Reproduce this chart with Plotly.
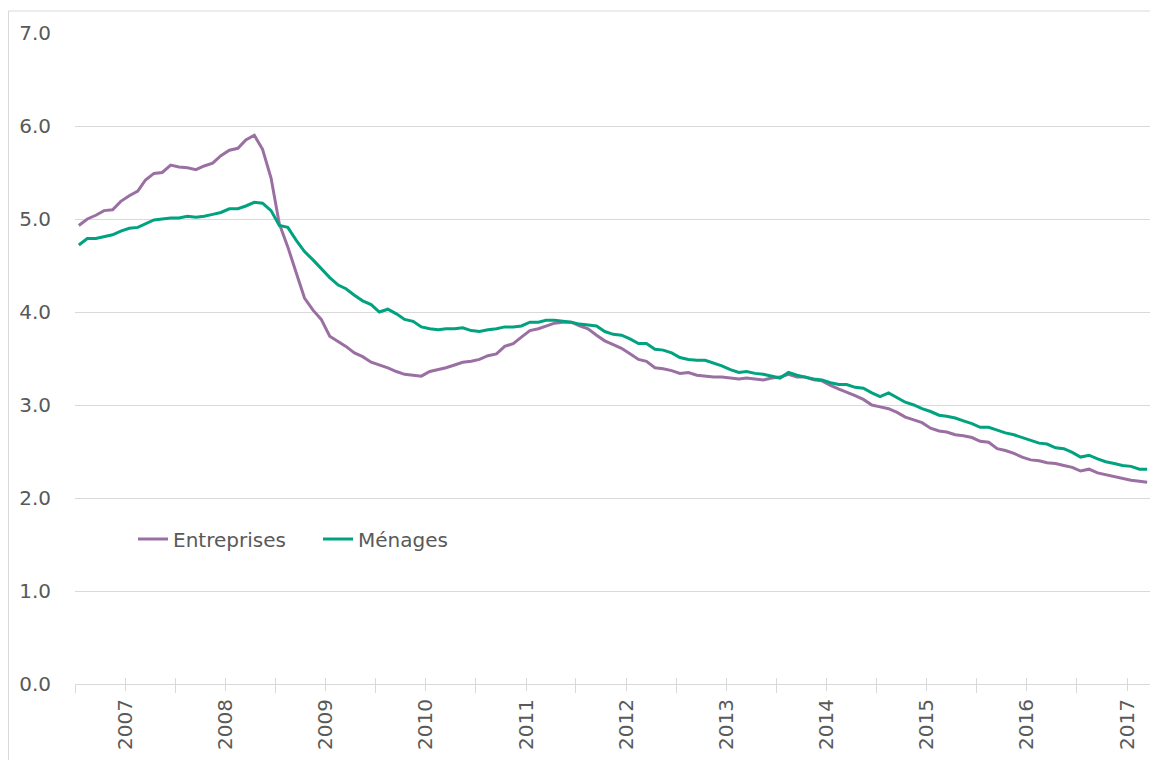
import pandas as pd
import plotly.graph_objects as go

# Monthly series, Jul 2006 -> Mar 2017
start_month = "2006-07-01"
end_month = "2017-03-01"

entreprises = [
    4.93, 5.00, 5.04, 5.09, 5.10, 5.19, 5.25, 5.30, 5.42, 5.49,
    5.50, 5.58, 5.56, 5.55, 5.53, 5.57, 5.60, 5.68, 5.74, 5.76,
    5.85, 5.90, 5.75, 5.44, 4.95, 4.70, 4.42, 4.15, 4.02, 3.92,
    3.74, 3.68, 3.63, 3.56, 3.52, 3.46, 3.43, 3.40, 3.36, 3.33,
    3.32, 3.31, 3.36, 3.38, 3.40, 3.43, 3.46, 3.47, 3.49, 3.53,
    3.55, 3.63, 3.66, 3.73, 3.80, 3.82, 3.85, 3.88, 3.89, 3.89,
    3.85, 3.82, 3.75, 3.69, 3.65, 3.61, 3.55, 3.49, 3.47, 3.40,
    3.39, 3.37, 3.34, 3.35, 3.32, 3.31, 3.30, 3.30, 3.29, 3.28,
    3.29, 3.28, 3.27, 3.29, 3.30, 3.33, 3.30, 3.30, 3.27, 3.26,
    3.21, 3.17, 3.14, 3.10, 3.06, 3.00, 2.98, 2.96, 2.92, 2.87,
    2.84, 2.81, 2.75, 2.72, 2.71, 2.68, 2.67, 2.65, 2.61, 2.60,
    2.53, 2.51, 2.48, 2.44, 2.41, 2.40, 2.38, 2.37, 2.35, 2.33,
    2.29, 2.31, 2.27, 2.25, 2.23, 2.21, 2.19, 2.18, 2.17,
]

menages = [
    4.72, 4.79, 4.79, 4.81, 4.83, 4.87, 4.90, 4.91, 4.95, 4.99,
    5.00, 5.01, 5.01, 5.03, 5.02, 5.03, 5.05, 5.07, 5.11, 5.11,
    5.14, 5.18, 5.17, 5.09, 4.93, 4.91, 4.77, 4.65, 4.56, 4.47,
    4.37, 4.29, 4.25, 4.18, 4.12, 4.08, 4.00, 4.03, 3.98, 3.92,
    3.90, 3.84, 3.82, 3.81, 3.82, 3.82, 3.83, 3.80, 3.79, 3.81,
    3.82, 3.84, 3.84, 3.85, 3.89, 3.89, 3.91, 3.91, 3.90, 3.89,
    3.87, 3.86, 3.85, 3.79, 3.76, 3.75, 3.71, 3.66, 3.66, 3.60,
    3.59, 3.56, 3.51, 3.49, 3.48, 3.48, 3.45, 3.42, 3.38, 3.35,
    3.36, 3.34, 3.33, 3.31, 3.29, 3.35, 3.32, 3.30, 3.28, 3.27,
    3.24, 3.22, 3.22, 3.19, 3.18, 3.13, 3.09, 3.13, 3.08, 3.03,
    3.00, 2.96, 2.93, 2.89, 2.88, 2.86, 2.83, 2.80, 2.76, 2.76,
    2.73, 2.70, 2.68, 2.65, 2.62, 2.59, 2.58, 2.54, 2.53, 2.49,
    2.44, 2.46, 2.42, 2.39, 2.37, 2.35, 2.34, 2.31, 2.31,
]

series_names = ["Entreprises", "Ménages"]
series_colors = ["#9a70a2", "#00a27f"]
year_labels = [str(y) for y in range(2007, 2018)]
y_tick_values = [0, 1, 2, 3, 4, 5, 6, 7]

months = pd.date_range(start_month, end_month, freq="MS")
x_dates = months + pd.Timedelta(days=14)

year_ticks = [f"{y}-01-01" for y in year_labels]
mid_ticks = [f"{y}-07-01" for y in range(2006, 2017)]
all_ticks = sorted(year_ticks + mid_ticks)
x_range = ["2006-07-01", "2017-03-29"]

grid = "#d9d9d9"
txt = "#595959"
font_family = "DejaVu Sans, Open Sans, sans-serif"

W, H = 1150, 752
L, R, T, B = 67, 7, 25, 76
pw, ph = W - L - R, H - T - B

fig = go.Figure()
for name, vals, col in zip(series_names, [entreprises, menages], series_colors):
    fig.add_trace(go.Scatter(x=x_dates, y=vals, mode="lines", name=name,
                             line=dict(color=col, width=3)))
# empty trace to materialize overlay axis used for upward tick marks
fig.add_trace(go.Scatter(x=[], y=[], xaxis="x2", showlegend=False, hoverinfo="skip"))

fig.update_layout(
    width=W, height=H,
    margin=dict(l=L, r=R, t=T, b=B),
    paper_bgcolor="white", plot_bgcolor="white",
    font=dict(family=font_family, size=20, color=txt),
    showlegend=True,
    legend=dict(orientation="h", x=(125 - L) / pw, xanchor="left",
                y=(ph + T - 531) / ph, yanchor="middle",
                bgcolor="rgba(0,0,0,0)", font=dict(size=20, color=txt),
                entrywidthmode="pixels", entrywidth=140),
    xaxis=dict(type="date", range=x_range, tickmode="array",
               tickvals=year_ticks, ticktext=year_labels, tickangle=-90,
               ticks="outside", ticklen=6, tickcolor=grid, tickwidth=1,
               showgrid=False, showline=True, linecolor=grid, linewidth=1,
               zeroline=False,
               minor=dict(tickmode="array", tickvals=mid_ticks, ticks="outside",
                          ticklen=8, tickcolor=grid, tickwidth=1, showgrid=False)),
    xaxis2=dict(type="date", range=x_range, overlaying="x", anchor="y", side="bottom",
                tickmode="array", tickvals=all_ticks, ticks="inside", ticklen=6,
                tickcolor=grid, tickwidth=1, showticklabels=False, showgrid=False,
                showline=False, zeroline=False),
    yaxis=dict(range=[0, 7], tickmode="array", tickvals=y_tick_values,
               tickformat=".1f", showgrid=True, gridcolor=grid, gridwidth=1,
               showline=False, zeroline=False, ticks="outside", ticklen=19,
               tickcolor="rgba(0,0,0,0)"),
    shapes=[dict(type="rect", xref="paper", yref="paper",
                 x0=(0.5 - L) / pw, x1=(1149 - L) / pw,
                 y0=(T + ph - 770) / ph, y1=(T + ph - 3) / ph,
                 line=dict(color=grid, width=1), fillcolor="rgba(0,0,0,0)",
                 layer="below")],
)

fig.write_html("out.html")
